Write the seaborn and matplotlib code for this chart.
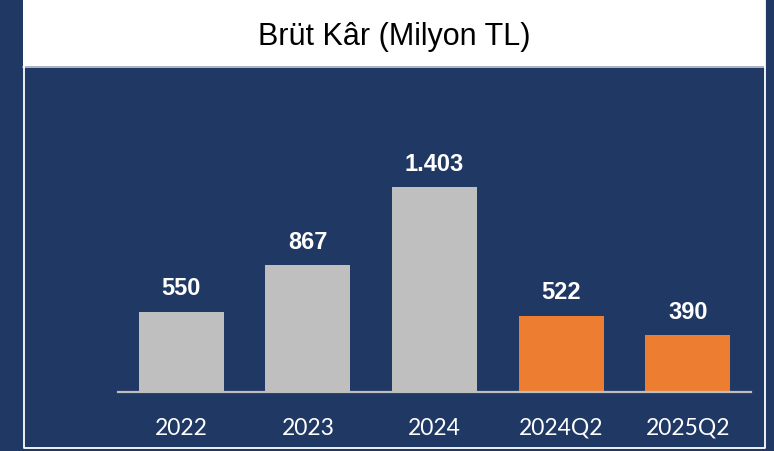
import matplotlib
matplotlib.use("Agg")
import matplotlib.pyplot as plt
from matplotlib.patches import Rectangle
from matplotlib.lines import Line2D
import seaborn as sns
import pandas as pd

categories = ["2022", "2023", "2024", "2024Q2", "2025Q2"]
values = [550, 867, 1403, 522, 390]
value_labels = ["550", "867", "1.403", "522", "390"]
bar_colors = ["#BFBFBF", "#BFBFBF", "#BFBFBF", "#ED7D31", "#ED7D31"]
title = "Brüt Kâr (Milyon TL)"

NAVY = "#203864"

sns.set_theme(style="white")
plt.rcParams["font.family"] = ["Liberation Sans", "DejaVu Sans"]

fig = plt.figure(figsize=(7.74, 4.52), dpi=100)
fig.patch.set_facecolor(NAVY)

W, H = 774.0, 452.0
# header white panel
fig.add_artist(Rectangle((23 / W, 1 - 67 / H), (765 - 23) / W, 67 / H,
                         transform=fig.transFigure, facecolor="white",
                         edgecolor="none", zorder=0))
# header bottom line
fig.add_artist(Line2D([23 / W, 765 / W], [1 - 67.5 / H, 1 - 67.5 / H],
                      transform=fig.transFigure, color="#C8CCD6", lw=1.2))
# white frame
fig.add_artist(Line2D([23.5 / W, 23.5 / W, 764.5 / W, 764.5 / W],
                      [1.0, 1 - 449 / H, 1 - 449 / H, 1.0],
                      transform=fig.transFigure, color="white", lw=1.3))

fig.text(394.5 / W, 1 - 37 / H, title, ha="center", va="center",
         fontsize=22, color="black",
         family=["Liberation Sans Narrow", "Liberation Sans", "DejaVu Sans"])

ax = fig.add_axes([118 / W, 59 / H, 633 / W, 293 / H])
ax.set_facecolor(NAVY)
ax.patch.set_alpha(0)

df = pd.DataFrame({"cat": categories, "val": values})
sns.barplot(data=df, x="cat", y="val", hue="cat", palette=bar_colors,
            legend=False, width=0.672, saturation=1, ax=ax,
            edgecolor="none", linewidth=0)

for cont, lab in zip(ax.containers, value_labels):
    ax.bar_label(cont, labels=[lab], padding=9, color="white",
                 fontsize=17, fontweight="bold")

ax.set_xlim(-0.5, 4.5)
ax.set_ylim(0, 2007)
ax.set_xlabel("")
ax.set_ylabel("")
ax.set_yticks([])
for s in ["top", "left", "right"]:
    ax.spines[s].set_visible(False)
ax.spines["bottom"].set_color("#BFBFBF")
ax.spines["bottom"].set_linewidth(1.6)
ax.tick_params(axis="x", length=0, pad=18, colors="white", labelsize=16.5)
for t in ax.get_xticklabels():
    t.set_family(["Lato", "DejaVu Sans"])

fig.savefig("out.png", dpi=100, facecolor=NAVY)
